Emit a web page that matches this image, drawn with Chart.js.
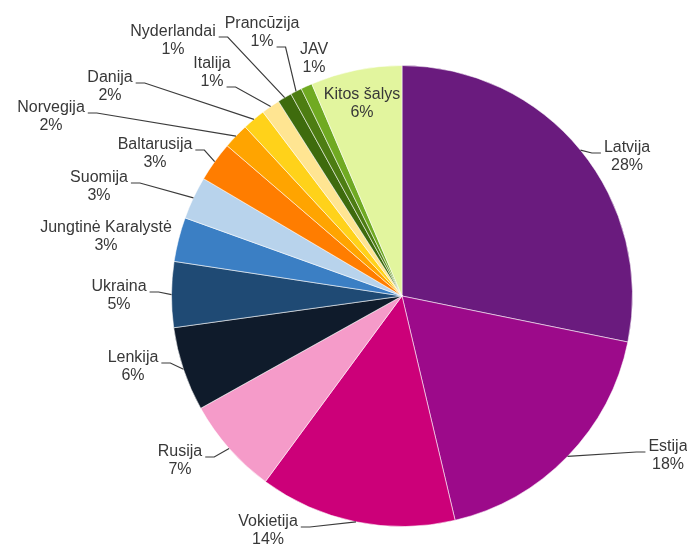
<!DOCTYPE html>
<html>
<head>
<meta charset="utf-8">
<script src="https://cdn.jsdelivr.net/npm/chart.js@4/dist/chart.umd.min.js"></script>
<style>
  html, body { margin: 0; padding: 0; background: #fff; }
  canvas { display: block; }
</style>
</head>
<body>
<canvas id="countries-pie" width="687" height="544"></canvas>
<script>
const countries = [
  "Latvija", "Estija", "Vokietija", "Rusija", "Lenkija", "Ukraina",
  "Jungtinė Karalystė", "Suomija", "Baltarusija", "Norvegija", "Danija",
  "Italija", "Nyderlandai", "Prancūzija", "JAV", "Kitos šalys",
];
const shares = [28.2, 18.1, 13.8, 6.8, 5.9, 4.6, 3.1, 3.0, 2.8, 1.8, 1.6, 1.3, 1.0, 0.8, 0.8, 6.4];
const sliceColors = [
  "#6a1b7e", "#9c0a8a", "#cc0079", "#f59bc9", "#0f1b2b", "#1f4a74",
  "#3b7fc4", "#b8d3ec", "#ff7d00", "#ffa400", "#ffd21a", "#ffe592",
  "#3e6b0d", "#4d7d12", "#70aa22", "#e2f59e",
];

// label placement: name-line centre x, y and which line the leader hangs from (-1 = none)
const labelLayout = [
  [627, 148, 0], [668, 447, 0], [268, 522, 0], [180, 452, 0],
  [133, 358, 0], [119, 287, 0], [106, 228, -1], [99, 178, 0],
  [155, 145, 0], [51, 108, 0], [110, 78, 0], [212, 64, 1],
  [173, 32, 0], [262, 24, 1], [314, 50, -1], [362, 95, -1],
];

const LINE_GAP = 18;

const leaderLabels = {
  id: "leader-labels",
  afterDatasetsDraw(chart) {
    const { ctx } = chart;
    const arcs = chart.getDatasetMeta(0).data;
    const total = shares.reduce((s, v) => s + v, 0);
    ctx.save();
    ctx.font = "16px 'Liberation Sans', Arial, sans-serif";
    ctx.textAlign = "center";
    ctx.textBaseline = "middle";
    arcs.forEach((arc, i) => {
      const [cx, cy, attach] = labelLayout[i];
      const pct = `${Math.round((shares[i] / total) * 100)}%`;
      const lines = [countries[i], pct];

      if (attach >= 0) {
        const { x, y, startAngle, endAngle, outerRadius } = arc.getProps(
          ["x", "y", "startAngle", "endAngle", "outerRadius"], true);
        const mid = (startAngle + endAngle) / 2;
        const px = x + Math.cos(mid) * outerRadius;
        const py = y + Math.sin(mid) * outerRadius;
        const w = ctx.measureText(lines[attach]).width;
        const ly = cy + attach * LINE_GAP + 5;
        const leftSide = cx < px;
        const lx = leftSide ? cx + w / 2 + 3 : cx - w / 2 - 3;
        const stub = leftSide ? lx + 9 : lx - 9;
        ctx.strokeStyle = "#3c3c3c";
        ctx.lineWidth = 1.2;
        ctx.beginPath();
        ctx.moveTo(lx, ly);
        ctx.lineTo(stub, ly);
        ctx.lineTo(px, py);
        ctx.stroke();
      }

      ctx.fillStyle = "#383838";
      lines.forEach((t, k) => ctx.fillText(t, cx, cy + k * LINE_GAP));
    });
    ctx.restore();
  },
};

new Chart(document.getElementById("countries-pie"), {
  type: "pie",
  data: {
    labels: countries,
    datasets: [{
      data: shares,
      backgroundColor: sliceColors,
      borderColor: "rgba(255,255,255,0.55)",
      borderWidth: 1,
    }],
  },
  options: {
    responsive: false,
    animation: false,
    layout: { padding: { top: 65, bottom: 17, left: 171, right: 54 } },
    plugins: {
      legend: { display: false },
      tooltip: { enabled: false },
    },
  },
  plugins: [leaderLabels],
});
</script>
</body>
</html>
